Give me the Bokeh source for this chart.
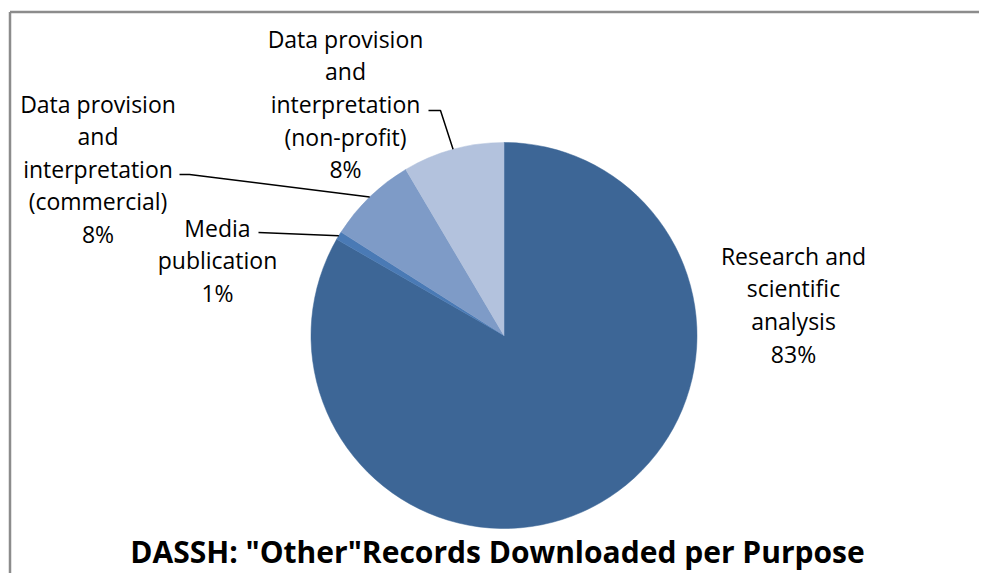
import math
from bokeh.plotting import figure
from bokeh.models import Range1d, ColumnDataSource
from bokeh.core.properties import value
from bokeh.embed import file_html
from bokeh.resources import INLINE

# ---- data (clockwise from 12 o'clock) ----
categories = ["Research and scientific analysis", "Media publication",
              "Data provision and interpretation (commercial)",
              "Data provision and interpretation (non-profit)"]
shares = [83.3, 0.7, 7.5, 8.5]
pct_labels = ["83%", "1%", "8%", "8%"]
label_lines = [["Research and", "scientific", "analysis"],
               ["Media", "publication"],
               ["Data provision", "and", "interpretation", "(commercial)"],
               ["Data provision", "and", "interpretation", "(non-profit)"]]
colors = ["#3D6696", "#4A7AB5", "#7E9BC7", "#B3C2DD"]
title_text = 'DASSH: "Other"Records Downloaded per Purpose'

# ---- layout (image pixel coordinates, y flipped) ----
W, H = 979, 573
PAGE_H = 581
def Y(py):
    return PAGE_H - py

cx, cy, R = 503.5, Y(335), 193.0

p = figure(width=W, height=H, output_backend="svg", toolbar_location=None,
           x_range=Range1d(0, 979), y_range=Range1d(Y(573), Y(0)),
           min_border_left=0, min_border_top=0, min_border_right=0, min_border_bottom=0)
p.xaxis.visible = False
p.yaxis.visible = False
p.grid.visible = False
p.outline_line_color = None
p.background_fill_color = "white"
p.border_fill_color = "white"

# chart-area frame (left and top edges; right/bottom lie outside the view)
p.segment(x0=[9.5, 9.5], y0=[Y(11.5), Y(11.5)], x1=[9.5, 1200], y1=[Y(700), Y(11.5)],
          line_color="#8C8C8C", line_width=2.5)

# ---- wedges computed from data ----
total = sum(shares)
starts, ends, mids = [], [], []
cum = 0.0
for s in shares:
    a0 = math.pi / 2 - 2 * math.pi * (cum + s) / total
    a1 = math.pi / 2 - 2 * math.pi * cum / total
    starts.append(a0)
    ends.append(a1)
    mids.append((a0 + a1) / 2)
    cum += s

src = ColumnDataSource(dict(start=starts, end=ends, color=colors, cat=categories, share=shares))
p.wedge(x=cx, y=cy, radius=R, start_angle="start", end_angle="end",
        fill_color="color", line_color="color", line_width=0.5, source=src)

# ---- labels ----
font = value("Open Sans")
fs = "23px"
label_pos = [  # (center x, first line center page-y, line spacing)
    (793, 255, 32.7),
    (217, 227, 32.5),
    (97.5, 103, 32.5),
    (345, 38, 32.7),
]
for i, (lx, ly, dy) in enumerate(label_pos):
    lines = label_lines[i] + [pct_labels[i]]
    xs = [lx] * len(lines)
    ys = [Y(ly + k * dy) for k in range(len(lines))]
    p.text(x=xs, y=ys, text=lines, text_font=font, text_font_size=fs,
           text_align="center", text_baseline="middle", text_color="#000000")

# ---- leader lines (label end -> slice edge midpoint) ----
leader_start = {1: [(258, 232)], 2: [(179, 174), (189, 174)], 3: [(428, 110), (440, 110)]}
for i, pts in leader_start.items():
    ex = cx + R * math.cos(mids[i])
    ey = cy + R * math.sin(mids[i])
    xs = [pt[0] for pt in pts] + [ex]
    ys = [Y(pt[1]) for pt in pts] + [ey]
    p.line(xs, ys, line_color="#000000", line_width=1.5)

# ---- title ----
p.text(x=[497], y=[Y(551)], text=[title_text], text_font=font, text_font_size="30px",
       text_font_style="bold", text_align="center", text_baseline="middle", text_color="#000000")

open("out.html", "w").write(file_html(p, INLINE))
